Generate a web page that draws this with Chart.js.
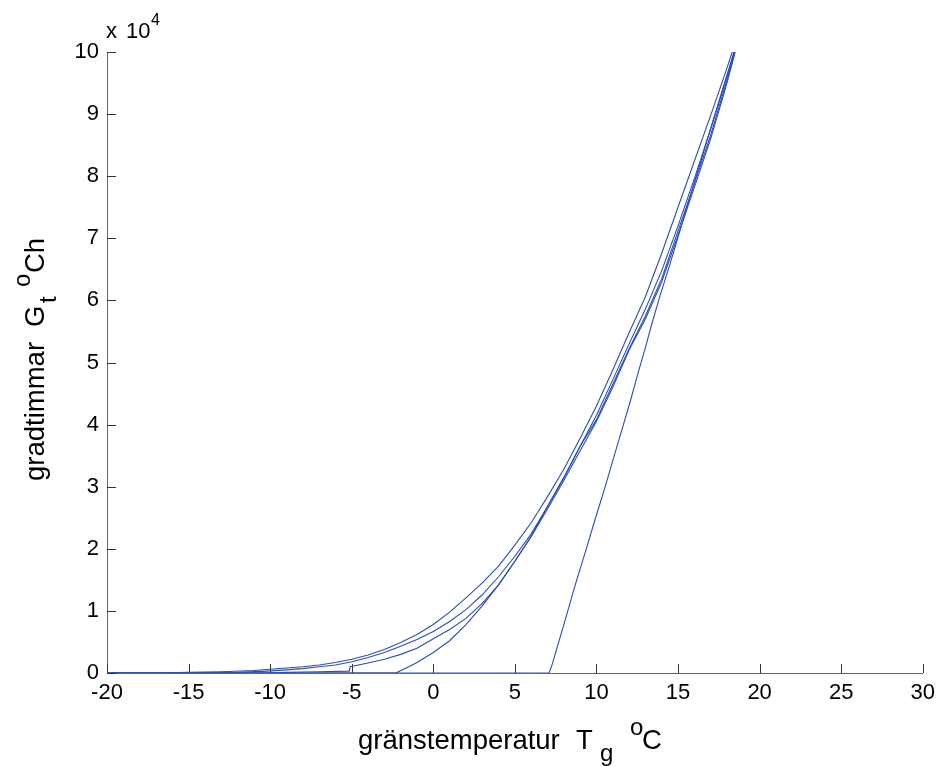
<!DOCTYPE html>
<html>
<head>
<meta charset="utf-8">
<script src="https://cdn.jsdelivr.net/npm/chart.js@4.4.0/dist/chart.umd.min.js"></script>
<style>
  html, body { margin: 0; padding: 0; background: #fff; }
</style>
</head>
<body>
<canvas id="gt" width="942" height="767"></canvas>
<script>
// gradtimmar (x 10^4 °Ch) against gränstemperatur (°C)
const tgA = [-20, -16.7, -15, -13, -11, -10, -9, -8, -7, -6, -5, -4, -3, -2, -1, 0, 1, 2, 3, 4, 5, 6, 7, 8, 9, 10, 11, 12, 13, 14, 15, 16, 17, 18, 18.32];
const gtA = [0, 0, 0.01, 0.02, 0.04, 0.06, 0.08, 0.10, 0.13, 0.17, 0.22, 0.29, 0.38, 0.49, 0.62, 0.78, 0.98, 1.21, 1.45, 1.72, 2.06, 2.42, 2.84, 3.28, 3.78, 4.3, 4.88, 5.48, 6.06, 6.76, 7.5, 8.24, 8.98, 9.74, 10];

const tgB = [-20, -14.5, -12, -10.2, -9, -8, -7, -6, -5, -4, -3, -2, -1, 0, 1, 2, 3, 4, 5, 6, 7, 8, 9, 10, 11, 12, 13, 14, 15, 16, 17, 18, 18.42];
const gtB = [0, 0, 0.01, 0.03, 0.05, 0.07, 0.10, 0.13, 0.18, 0.25, 0.33, 0.43, 0.54, 0.67, 0.83, 1.02, 1.26, 1.55, 1.88, 2.24, 2.68, 3.14, 3.65, 4.15, 4.72, 5.3, 5.86, 6.48, 7.2, 7.96, 8.76, 9.6, 10];

const tgC = [-20, -10.2, -9, -8, -7, -5.15, -5.1, -4, -3, -2, -1, 0, 1, 2, 3, 4, 5, 6, 7, 8, 9, 10, 11, 12, 13, 14, 15, 16, 17, 18, 18.48];
const gtC = [0, 0, 0.01, 0.015, 0.02, 0.03, 0.1, 0.16, 0.22, 0.3, 0.4, 0.55, 0.7, 0.88, 1.12, 1.42, 1.8, 2.2, 2.68, 3.15, 3.65, 4.08, 4.65, 5.22, 5.75, 6.35, 7.12, 7.88, 8.66, 9.55, 10];

const tgD = [-20, -2.3, -1.5, -1, 0, 1, 2, 3, 4, 5, 6, 7, 8, 9, 10, 11, 12, 13, 14, 15, 16, 17, 18, 18.5];
const gtD = [0, 0, 0.1, 0.17, 0.33, 0.52, 0.78, 1.08, 1.42, 1.8, 2.2, 2.64, 3.1, 3.58, 4.05, 4.6, 5.2, 5.7, 6.3, 7.05, 7.82, 8.6, 9.5, 10];

const tgE = [-20, 7.1, 7.3, 8, 8.7, 9.4, 9.9, 10.5, 11, 11.54, 12.1, 12.56, 13, 13.37, 13.88, 14.5, 15, 15.5, 16, 16.5, 17, 17.5, 18, 18.45];
const gtE = [0, 0, 0.15, 0.78, 1.42, 2.02, 2.46, 2.97, 3.42, 3.9, 4.4, 4.84, 5.24, 5.6, 6.06, 6.58, 7.02, 7.46, 7.9, 8.33, 8.77, 9.2, 9.63, 10];

const xTicks = [-20, -15, -10, -5, 0, 5, 10, 15, 20, 25, 30];
const yTicks = [0, 1, 2, 3, 4, 5, 6, 7, 8, 9, 10];

const lineBlue = '#2a4db6';
const fontFam = "'Liberation Sans', Arial, sans-serif";

function pairs(xs, ys) {
    return xs.map((v, i) => ({x: v, y: ys[i]}));
}

function curve(xs, ys) {
    return {
        data: pairs(xs, ys),
        showLine: true,
        borderColor: lineBlue,
        borderWidth: 1.1,
        pointRadius: 0,
        tension: 0,
        fill: false
    };
}

// MATLAB style: ticks point into the plot, labels drawn with sub/superscripts
const axisDecor = {
    id: 'axisDecor',
    beforeDatasetsDraw(chart) {
        const {ctx, chartArea: a, scales} = chart;
        const len = 9;
        ctx.save();
        ctx.strokeStyle = '#333';
        ctx.lineWidth = 1;
        ctx.beginPath();
        xTicks.forEach(v => {
            const px = Math.round(scales.x.getPixelForValue(v)) + 0.5;
            ctx.moveTo(px, a.bottom);
            ctx.lineTo(px, a.bottom - len);
        });
        yTicks.forEach(v => {
            const py = Math.round(scales.y.getPixelForValue(v)) + 0.5;
            ctx.moveTo(a.left, py);
            ctx.lineTo(a.left + len, py);
        });
        ctx.stroke();
        ctx.restore();
    },
    afterDraw(chart) {
        const ctx = chart.ctx;
        ctx.save();
        ctx.fillStyle = '#000';
        ctx.textBaseline = 'alphabetic';
        ctx.textAlign = 'left';

        // exponent label
        ctx.font = '22px ' + fontFam;
        ctx.fillText('x', 106, 38);
        ctx.fillText('10', 126, 38);
        ctx.font = '16px ' + fontFam;
        ctx.fillText('4', 151, 25);

        // x axis title
        ctx.font = '27.5px ' + fontFam;
        ctx.fillText('gränstemperatur', 358, 749);
        ctx.fillText('T', 576, 749);
        ctx.fillText('C', 642, 749);
        ctx.font = '24px ' + fontFam;
        ctx.fillText('g', 600, 761);
        ctx.fillText('o', 630, 735);

        // y axis title
        ctx.translate(44, 481);
        ctx.rotate(-Math.PI / 2);
        ctx.font = '27.5px ' + fontFam;
        ctx.fillText('gradtimmar', 0, 0);
        ctx.fillText('G', 154, 0);
        ctx.fillText('Ch', 208, 0);
        ctx.font = '24px ' + fontFam;
        ctx.fillText('t', 178, 12);
        ctx.fillText('o', 194, -14);
        ctx.restore();
    }
};

new Chart(document.getElementById('gt'), {
    type: 'scatter',
    data: {
        datasets: [curve(tgA, gtA), curve(tgB, gtB), curve(tgC, gtC), curve(tgD, gtD), curve(tgE, gtE)]
    },
    options: {
        responsive: false,
        devicePixelRatio: 1,
        animation: false,
        layout: {padding: {top: 52, right: 19, left: 0, bottom: 0}},
        plugins: {legend: {display: false}, tooltip: {enabled: false}},
        scales: {
            x: {
                type: 'linear',
                min: -20,
                max: 30,
                afterFit: s => { s.height = 94; },
                afterBuildTicks: s => { s.ticks = xTicks.map(v => ({value: v})); },
                grid: {display: false, drawTicks: false},
                border: {display: true, color: '#666', width: 1},
                ticks: {
                    color: '#000',
                    padding: 7,
                    maxRotation: 0,
                    font: {family: fontFam, size: 22},
                    callback: v => String(v)
                }
            },
            y: {
                type: 'linear',
                min: 0,
                max: 10,
                afterFit: s => { s.width = 107; },
                afterBuildTicks: s => { s.ticks = yTicks.map(v => ({value: v})); },
                grid: {display: false, drawTicks: false},
                border: {display: true, color: '#666', width: 1},
                ticks: {
                    color: '#000',
                    padding: 8,
                    font: {family: fontFam, size: 22},
                    callback: v => String(v)
                }
            }
        }
    },
    plugins: [axisDecor]
});
</script>
</body>
</html>
